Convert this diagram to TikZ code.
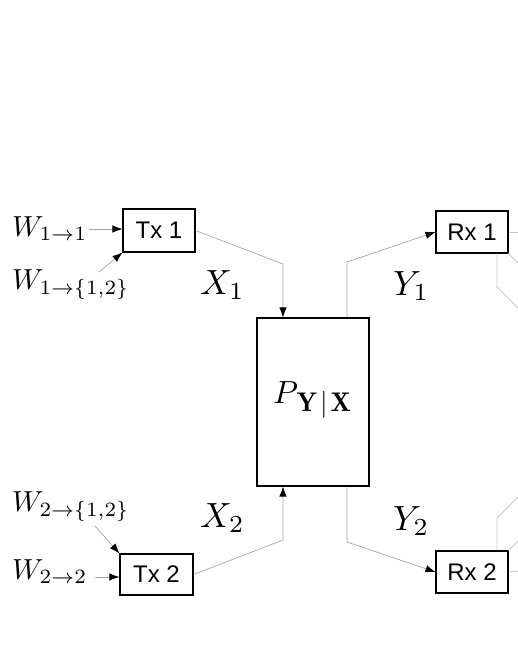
\documentclass[tikz,border=0pt]{standalone}
\usepackage{fontspec}
\usepackage{graphicx}
\setsansfont{Liberation Sans}
\usetikzlibrary{arrows.meta}
\definecolor{lineg}{RGB}{165,165,165}
\definecolor{faintg}{RGB}{200,200,200}
\newcommand{\wl}[1]{\scalebox{2.9}{$#1$}}
\newcommand{\xl}[1]{\scalebox{3.5}{$#1$}}
\begin{document}
\begin{tikzpicture}[x=1pt,y=-1pt,
  blk/.style={draw=black,line width=1.1pt,fill=white,inner sep=0pt,
    font=\sffamily\fontsize{24}{28}\selectfont},
  conn/.style={draw=lineg,line width=0.7pt},
  tip/.style={-{Latex[length=10pt,width=7.5pt,color=black]}},
  faint/.style={draw=faintg,line width=0.9pt},
  lbl/.style={inner sep=0pt,anchor=base west,font=\fontsize{10}{12}\selectfont}]
\useasboundingbox (0,0) rectangle (518,670);

% boxes
\node[blk,minimum width=72pt,minimum height=43pt] (tx1) at (159,230.5) {Tx 1};
\node[blk,minimum width=73pt,minimum height=41pt] (tx2) at (156.5,574.5) {Tx 2};
\node[blk,minimum width=72pt,minimum height=42pt] (rx1) at (472,232) {Rx 1};
\node[blk,minimum width=72pt,minimum height=42pt] (rx2) at (472,572) {Rx 2};
\node[blk,minimum width=112pt,minimum height=168pt] (P) at (313,402) {};
\node[lbl] (pl) at (273,403)
  {\scalebox{3.2}{$P$}\kern-1.5pt\raisebox{-8pt}{\scalebox{2.7}{$\mathbf{Y}\mkern2mu|\mkern2mu\mathbf{X}$}}};

% message labels
\node[lbl] (lw11) at (12,236) {\wl{W_{1\to1}}};
\node[lbl] (lw12) at (12,289) {\wl{W_{1\to\{1,2\}}}};
\node[lbl] (lw21) at (12,511) {\wl{W_{2\to\{1,2\}}}};
\node[lbl] (lw22) at (12,579) {\wl{W_{2\to2}}};

% signal labels
\node[lbl] (lx1) at (200,294) {\xl{X_1}};
\node[lbl] (lx2) at (200,527) {\xl{X_2}};
\node[lbl] (ly1) at (393,295) {\xl{Y_1}};
\node[lbl] (ly2) at (393,530) {\xl{Y_2}};

% input arrows
\coordinate (w11) at (89,229);
\coordinate (w12) at (99,272);
\coordinate (w21) at (95,526);
\coordinate (w22) at (95,577);
\draw[conn,tip] (w11) -- (w11 -| tx1.west);
\draw[conn,tip] (w12) -- (tx1.south west);
\draw[conn,tip] (w21) -- (tx2.north west);
\draw[conn,tip] (w22) -- (w22 -| tx2.west);

% channel connectors
\coordinate (a1) at (283,264);
\coordinate (a2) at (283,540);
\coordinate (b1) at (347,262);
\coordinate (b2) at (347,542);
\draw[conn,tip] (tx1.east) -- (a1) -- (a1 |- P.north);
\draw[conn,tip] (tx2.east) -- (a2) -- (a2 |- P.south);
\draw[conn,tip] (b1 |- P.north) -- (b1) -- (rx1.west);
\draw[conn,tip] (b2 |- P.south) -- (b2) -- (rx2.west);

% lines leaving the frame on the right
\coordinate (e1) at (518,232);
\coordinate (e2) at (518,263);
\coordinate (c1) at (497,287);
\coordinate (e3) at (518,308);
\draw[faint] (rx1.east) -- (e1);
\draw[faint] (rx1.south east) -- (e2);
\draw[faint] (c1 |- rx1.south) -- (c1) -- (e3);
\coordinate (f1) at (518,571);
\coordinate (f2) at (518,541);
\coordinate (c2) at (497,518);
\coordinate (f3) at (518,497);
\draw[faint] (rx2.east) -- (f1);
\draw[faint] (rx2.north east) -- (f2);
\draw[faint] (c2 |- rx2.north) -- (c2) -- (f3);
\end{tikzpicture}
\end{document}
